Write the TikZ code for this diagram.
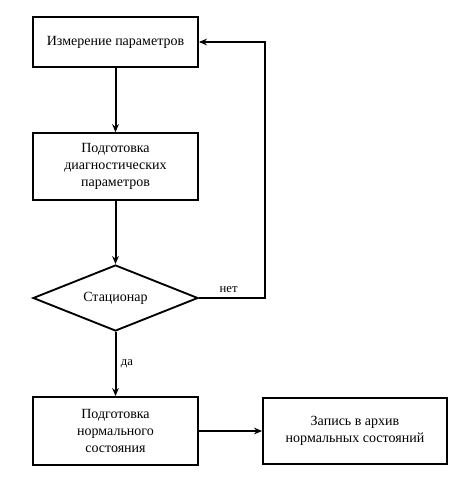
\documentclass[tikz,border=0pt]{standalone}
\usepackage{fontspec}
\setmainfont{Liberation Serif}
\usepackage{tikz}
\usetikzlibrary{arrows.meta,positioning,shapes.geometric}
\tikzset{
  blk/.style={draw=black, line width=1.4pt, fill=white, align=center,
              minimum width=123.75pt, font=\rmfamily\fontsize{10.5}{12.5}\selectfont, inner sep=2pt},
  dec/.style={draw=black, line width=1.4pt, diamond, aspect=2.5, inner sep=0pt,
              minimum width=123.75pt, minimum height=49.5pt, font=\rmfamily\fontsize{10.5}{12.5}\selectfont},
  arr/.style={-{Stealth[length=6pt,width=5pt]}, line width=1.5pt},
  lbl/.style={font=\rmfamily\fontsize{9.5}{11}\selectfont},
}
\begin{document}
\begin{tikzpicture}[x=0.75pt,y=-0.75pt]
  \useasboundingbox (0,0) rectangle (462,482);
  \node[blk, minimum height=37.5pt] (meas) at (115.5,42) {Измерение параметров};
  \node[blk, minimum height=50pt] (prep) at (115.5,166.5) {Подготовка\\диагностических\\параметров};
  \node[dec] (stat) at (115.5,298) {Стационар};
  \node[blk, minimum height=51pt] (norm) at (115.5,431) {Подготовка\\нормального\\состояния};
  \node[blk, minimum width=138pt, minimum height=49.5pt] (arch) at (355,431) {Запись в архив\\нормальных состояний};
  \coordinate (turn) at (265,298);
  % connectors
  \draw[arr] (meas) -- (prep);
  \draw[arr] (prep) -- (stat);
  \draw[arr] (stat) -- node[lbl, right, pos=0.5] {да} (norm);
  \draw[arr] (stat.east) -- node[lbl, above, pos=0.45] {нет} (turn) |- (meas.east);
  \draw[arr] (norm) -- (arch);
\end{tikzpicture}
\end{document}
